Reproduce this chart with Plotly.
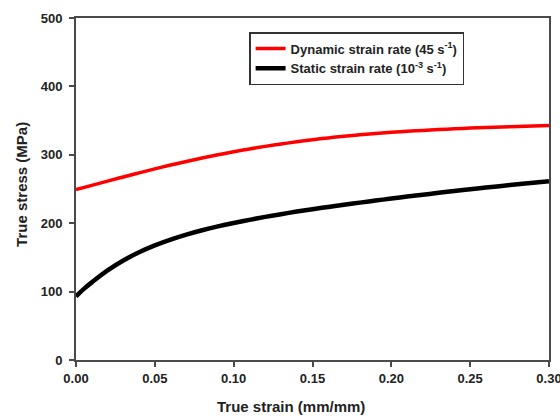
import plotly.graph_objects as go

# ---- data ----
strain = [0.00, 0.01, 0.02, 0.03, 0.04, 0.05, 0.06, 0.07, 0.08, 0.09, 0.10,
          0.11, 0.12, 0.13, 0.14, 0.15, 0.16, 0.17, 0.18, 0.19, 0.20,
          0.21, 0.22, 0.23, 0.24, 0.25, 0.26, 0.27, 0.28, 0.29, 0.30]

dynamic_stress = [249.0, 255.3, 261.5, 267.6, 273.6, 279.4, 285.0, 290.3, 295.3, 300.0, 304.4,
                  308.5, 312.3, 315.8, 319.0, 322.0, 324.7, 327.1, 329.3, 331.2, 332.9,
                  334.4, 335.7, 336.9, 338.0, 339.0, 339.9, 340.7, 341.5, 342.2, 343.0]

static_strain = [0.000, 0.005, 0.01, 0.02, 0.03, 0.04, 0.05, 0.06, 0.07, 0.08, 0.09, 0.10,
                 0.11, 0.12, 0.13, 0.14, 0.15, 0.16, 0.17, 0.18, 0.19, 0.20,
                 0.21, 0.22, 0.23, 0.24, 0.25, 0.26, 0.27, 0.28, 0.29, 0.30]
static_stress = [93.0, 104.0, 113.5, 131.0, 145.5, 157.5, 167.5, 176.0, 183.3, 189.7, 195.3, 200.3,
                 204.9, 209.2, 213.2, 217.0, 220.5, 223.8, 227.0, 230.1, 233.1, 236.0,
                 238.9, 241.7, 244.4, 247.0, 249.6, 252.1, 254.5, 256.9, 259.2, 261.5]

x_ticks = [0.00, 0.05, 0.10, 0.15, 0.20, 0.25, 0.30]
y_ticks = [0, 100, 200, 300, 400, 500]

series_names = ["Dynamic strain rate (45 s<sup>-1</sup>)",
                "Static strain rate (10<sup>-3</sup> s<sup>-1</sup>)"]

FONT = "Liberation Sans, Arial, sans-serif"
AXIS_COLOR = "#4a4a4a"

fig = go.Figure()
fig.add_trace(go.Scatter(x=strain, y=dynamic_stress, mode="lines",
                         name=series_names[0],
                         line=dict(color="#ff0000", width=3.5, shape="spline", smoothing=1.0)))
fig.add_trace(go.Scatter(x=static_strain, y=static_stress, mode="lines",
                         name=series_names[1],
                         line=dict(color="#000000", width=4.5, shape="spline", smoothing=1.0)))

axis_common = dict(
    showgrid=False, zeroline=False, automargin=False,
    showline=True, linecolor=AXIS_COLOR, linewidth=2, mirror=True,
    ticks="outside", ticklen=5, tickwidth=1.5, tickcolor=AXIS_COLOR,
    ticklabeloverflow="allow",
    tickfont=dict(family=FONT, size=13, color="#222222", weight="bold"),
)

fig.update_xaxes(range=[0, 0.30], tickvals=x_ticks, tickformat=".2f", **axis_common)
fig.update_yaxes(range=[0, 500], tickvals=y_ticks, ticklabelstandoff=4, **axis_common)

fig.update_layout(
    width=560, height=416,
    margin=dict(l=76, r=11, t=18, b=56, autoexpand=False),
    paper_bgcolor="white", plot_bgcolor="white",
    font=dict(family=FONT, color="#222222"),
    showlegend=True,
    legend=dict(
        x=0.366, y=0.959, xanchor="left", yanchor="top",
        bordercolor="#333333", borderwidth=1.5, bgcolor="white",
        font=dict(family=FONT, size=13, color="#222222", weight="bold"),
        itemwidth=30, tracegroupgap=0,
    ),
    annotations=[
        dict(text="True strain (mm/mm)", xref="paper", yref="paper",
             x=0.455, y=-0.137, xanchor="center", yanchor="middle",
             showarrow=False,
             font=dict(family=FONT, size=15, color="#222222", weight="bold")),
        dict(text="True stress (MPa)", xref="paper", yref="paper",
             x=-0.1156, y=0.513, xanchor="center", yanchor="middle",
             textangle=-90, showarrow=False,
             font=dict(family=FONT, size=15, color="#222222", weight="bold")),
    ],
)

fig.write_html("out.html",
               config={"displayModeBar": False},
               post_script="document.body.style.margin='0';document.body.style.overflow='hidden';")
